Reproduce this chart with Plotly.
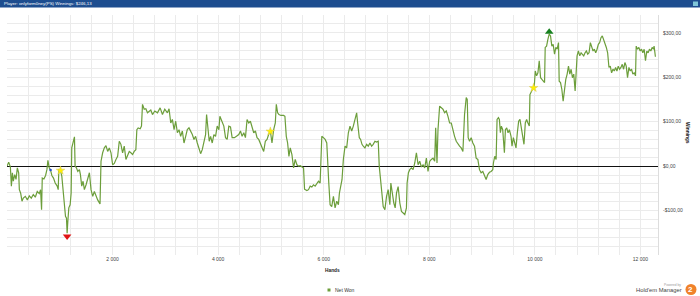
import plotly.graph_objects as go

# ---- data ----
hands = [1, 32, 64, 83, 102, 120, 146, 171, 196, 221, 234, 259, 284, 309, 347, 385, 422, 460, 498, 536,
         573, 611, 636, 655, 668, 699, 731, 756, 775, 800, 825, 850, 881, 913, 951, 970, 982, 1014, 1039, 1064,
         1089, 1108, 1127, 1139, 1152, 1171, 1196, 1215, 1227, 1253, 1278, 1290, 1315, 1341, 1372, 1391, 1416, 1441, 1466, 1498,
         1529, 1561, 1592, 1624, 1655, 1687, 1718, 1762, 1781, 1812, 1844, 1875, 1907, 1938, 1970, 2001, 2033, 2064, 2096, 2127,
         2158, 2190, 2221, 2253, 2284, 2316, 2347, 2379, 2410, 2441, 2460, 2485, 2523, 2548, 2567, 2599, 2630, 2662, 2724, 2756,
         2800, 2850, 2901, 2945, 2989, 3039, 3070,
         3102, 3133, 3165, 3196, 3228, 3259, 3290, 3322, 3353, 3385, 3416, 3448, 3479, 3511, 3542, 3573, 3605, 3636, 3668, 3699,
         3731, 3762, 3781, 3806, 3831, 3857, 3888, 3919, 3951, 3982, 4014, 4033, 4077, 4108, 4140, 4171, 4202, 4234, 4265, 4309,
         4347, 4391, 4423, 4454, 4486, 4517, 4548, 4580, 4611, 4643, 4674, 4706, 4737, 4769, 4800, 4831, 4863, 4894, 4926, 4957,
         4989, 5020, 5052, 5083, 5102, 5127, 5152, 5190, 5240, 5265, 5291, 5316, 5341, 5366, 5398, 5429, 5460, 5492, 5523, 5555,
         5586, 5618, 5637, 5681, 5712, 5744, 5775, 5806, 5838, 5869, 5901, 5932, 5964, 5995, 6027, 6058,
         6070, 6096, 6121, 6152, 6184, 6215, 6247, 6278, 6297, 6322, 6347, 6372, 6404, 6435, 6467, 6498, 6530, 6561, 6592, 6624,
         6643, 6674, 6699, 6725, 6750, 6781, 6813, 6844, 6876, 6907, 6938, 6970, 7001, 7033, 7052, 7077, 7102, 7127, 7159, 7190,
         7221, 7253, 7272, 7303, 7328, 7354, 7379, 7410, 7442, 7473, 7505, 7536, 7567, 7580, 7605, 7630, 7662, 7693, 7725, 7756,
         7788, 7819, 7850, 7882, 7913, 7945, 7976, 8008, 8039, 8071, 8102, 8121, 8146, 8165, 8196, 8228, 8259, 8291, 8322, 8354,
         8385, 8417, 8448, 8479, 8511, 8542, 8574, 8605, 8637, 8668, 8700, 8719, 8737, 8763, 8794, 8825, 8857, 8888, 8920,
         8951, 8982, 9014, 9045, 9077, 9108, 9140, 9171, 9203, 9215, 9240, 9266, 9284, 9310, 9328, 9347, 9366, 9391, 9423, 9442,
         9467, 9492, 9517, 9549, 9567, 9593, 9618, 9643, 9668, 9693, 9718, 9744, 9769, 9794, 9819, 9844, 9869, 9895, 9907, 9932,
         9957, 9989, 10008, 10033, 10058, 10083, 10108, 10134, 10159, 10184, 10196, 10222, 10247, 10272, 10297, 10322, 10347, 10373, 10398, 10423,
         10448, 10461, 10486, 10511, 10536, 10561, 10586, 10612, 10637, 10662, 10687, 10712, 10737, 10763, 10775, 10800, 10825, 10851, 10876, 10901,
         10926, 10951, 10976, 11002, 11027, 11052, 11077, 11102, 11127, 11153, 11178, 11203, 11228, 11253, 11278, 11303, 11329, 11354, 11379, 11404,
         11429, 11454, 11480, 11505, 11530, 11555, 11580, 11605, 11631, 11656, 11681, 11706, 11731, 11756, 11782, 11807, 11832, 11857, 11882, 11907,
         11920, 11945, 11970, 11995, 12021, 12046, 12071, 12096, 12121, 12146, 12171, 12197, 12222, 12247, 12259, 12284]

net_won = [0, 9, -2, -45, -15, -34, -19, -30, -4, -15, -53, -61, -79, -72, -68, -76, -67, -72, -64, -70,
           -57, -62, -53, -98, -27, -29, -21, -8, 13, -4, -9, -21, -27, -38, -45, -53, -8, -10, -23, -53,
           -83, -113, -117, -151, -125, -94, -87, -61, 41, 56, 66, 0, -4, -12, -8, -19, -45, -34, -53, -42,
           -27, -15, -53, -68, -57, -68, -76, -85, 11, 30, 41, 46, 33, 41, 30, 3, 6, 15, 22, 56,
           49, 30, 45, 15, 26, 33, 30, 26, 33, 37, 82, 86, 84, 90, 139, 128, 129, 120, 126, 116,
           124, 120, 131, 116, 128, 120, 129,
           97, 105, 82, 101, 75, 82, 67, 79, 52, 67, 82, 86, 79, 71, 60, 67, 52, 41, 28, 37,
           52, 71, 116, 82, 56, 67, 52, 71, 67, 90, 82, 112, 101, 90, 64, 60, 90, 88, 64, 64,
           67, 71, 79, 67, 75, 64, 105, 97, 101, 90, 75, 79, 64, 60, 52, 45, 33, 56, 60, 71,
           79, 52, 82, 97, 139, 120, 116, 114, 114, 112, 67, 52, 22, 41, 26, -4, 15, 3, 0, 1,
           -2, -4, -52, -55, -53, -45, -47, -42, -45, -38, -34, -38, 67, 64, 60, 52,
           7, -38, -87, -91, -68, -94, -79, -87, -61, -46, -30, 15, 45, 41, 75, 90, 79, 90, 105, 120,
           97, 64, 60, 49, 45, 41, 49, 45, 52, 45, 49, 56, 54, 56, 0, -30, -46, -91, -98, -68,
           -53, -87, -38, -68, -83, -94, -61, -46, -83, -102, -106, -109, -94, -38, -15, -8, -4, -8, 7, 30,
           3, 11, -2, 3, -4, 18, -12, 11, 15, 18, 11, 86, 7, 82, 135, 131, 128, 120, 124, 112,
           97, 97, 79, 67, 56, 49, 45, 41, 33, 116, 154, 150, 64, 56, 64, 52, 45, 18, 15,
           -8, -15, -12, -23, -30, -19, -14, -12, -8, 7, 22, 15, 105, 109, 105, 75, 90, 82, 30, 82,
           86, 75, 82, 67, 45, 64, 52, 41, 75, 101, 105, 82, 71, 49, 97, 105, 97, 90, 161, 169,
           173, 180, 214, 203, 210, 237, 199, 195, 191, 188, 267, 270, 285, 297, 293, 270, 274, 252, 267, 263,
           278, 191, 188, 173, 146, 180, 195, 207, 225, 207, 218, 199, 207, 169, 210, 248, 259, 248, 255, 252,
           248, 255, 259, 252, 255, 278, 267, 259, 263, 255, 263, 274, 278, 289, 293, 285, 274, 267, 255, 222,
           225, 210, 218, 214, 222, 214, 225, 218, 222, 229, 218, 233, 225, 199, 222, 214, 218, 207, 210, 203,
           270, 263, 267, 259, 263, 255, 263, 237, 259, 255, 263, 259, 267, 263, 270, 246.13]

x_tick_vals = list(range(0, 12401, 400))
x_tick_text = [("{:,}".format(v).replace(",", " ") if v % 2000 == 0 and v > 0 else "") for v in x_tick_vals]
y_tick_vals = list(range(-200, 341, 20))
y_labels = {-100: "-$100,00", 0: "$0,00", 100: "$100,00", 200: "$200,00", 300: "$300,00"}
y_tick_text = [y_labels.get(v, "") for v in y_tick_vals]

star_hands = [1014, 4989, 9976]
star_values = [-10, 78, 176]
max_hand, max_value = 10272, 302
min_hand, min_value = 1139, -158
blue_hand, blue_value = 825, -9

series_name = "Net Won"
title_text = "Player: onlyform0ney(PS) Winnings: $246,13"

# ---- figure ----
W, H = 700, 296
ML, MR, MT, MB = 7, 42, 15, 41
PW, PH = W - ML - MR, H - MT - MB


def px_x(p):
    return (p - ML) / PW


def px_y(p):
    return 1 - (p - MT) / PH


FONT = "Liberation Sans, Arial, sans-serif"
LINE_COLOR = "#6c9e3b"

fig = go.Figure()
fig.add_trace(go.Scatter(x=hands, y=net_won, mode="lines", name=series_name,
                         line=dict(color=LINE_COLOR, width=1.2), showlegend=False))
fig.add_trace(go.Scatter(x=[blue_hand], y=[blue_value], mode="markers",
                         marker=dict(color="#2050d0", size=2.5), showlegend=False))
fig.add_trace(go.Scatter(x=star_hands, y=star_values, mode="markers",
                         marker=dict(symbol="star", color="#fff000", size=6.5,
                                     line=dict(color="#d8c860", width=0.5)), showlegend=False))
fig.add_trace(go.Scatter(x=[min_hand], y=[min_value], mode="markers",
                         marker=dict(symbol="triangle-down", color="#e01414", size=7.5), showlegend=False))
fig.add_trace(go.Scatter(x=[max_hand], y=[max_value], mode="markers",
                         marker=dict(symbol="triangle-up", color="#17801f", size=7.5), showlegend=False))

fig.update_layout(
    width=W, height=H,
    margin=dict(l=ML, r=MR, t=MT, b=MB, pad=0),
    paper_bgcolor="white", plot_bgcolor="white",
    font=dict(family=FONT, size=5, color="#444"),
    showlegend=False,
    xaxis=dict(range=[0, 12333], tickmode="array", tickvals=x_tick_vals, ticktext=x_tick_text,
               showgrid=True, gridcolor="#ebebeb", gridwidth=1, zeroline=False, showline=False,
               ticks="", tickfont=dict(size=5, color="#444")),
    yaxis=dict(range=[-200, 340], side="right", tickmode="array", tickvals=y_tick_vals, ticktext=y_tick_text,
               showgrid=True, gridcolor="#ebebeb", gridwidth=1,
               zeroline=True, zerolinecolor="#111", zerolinewidth=1.3,
               showline=True, linecolor="#dddddd", linewidth=1, mirror=False,
               ticks="outside", ticklen=3, tickcolor="rgba(0,0,0,0)", tickfont=dict(size=5, color="#444")),
)

shapes = []
# title bar
shapes.append(dict(type="rect", xref="paper", yref="paper", x0=px_x(0), x1=px_x(W), y0=px_y(7.5), y1=px_y(0),
                   fillcolor="#1d4d8f", line=dict(width=0), layer="above"))
shapes.append(dict(type="rect", xref="paper", yref="paper", x0=px_x(693), x1=px_x(698), y0=px_y(6), y1=px_y(1.5),
                   fillcolor="#7fc6d8", line=dict(width=0), layer="above"))
# legend square
shapes.append(dict(type="rect", xref="paper", yref="paper", x0=px_x(327.5), x1=px_x(330.5), y0=px_y(291.5), y1=px_y(288.5),
                   fillcolor=LINE_COLOR, line=dict(width=0)))
# logo circle
shapes.append(dict(type="circle", xref="paper", yref="paper", x0=px_x(685.5), x1=px_x(696.5), y0=px_y(295), y1=px_y(284),
                   fillcolor="#f0822a", line=dict(width=0)))
fig.update_layout(shapes=shapes)

ann = []
ann.append(dict(text=title_text, xref="paper", yref="paper", x=px_x(2), y=px_y(3.8), xanchor="left", yanchor="middle",
                showarrow=False, font=dict(size=4.4, color="white", family=FONT)))
ann.append(dict(text="<b>Hands</b>", xref="paper", yref="paper", x=px_x(332.5), y=px_y(270), xanchor="center",
                yanchor="middle", showarrow=False, font=dict(size=4.8, color="#222", family=FONT)))
ann.append(dict(text="<b>Winnings</b>", xref="paper", yref="paper", x=px_x(688), y=px_y(133), xanchor="center",
                yanchor="middle", textangle=90, showarrow=False, font=dict(size=4.8, color="#222", family=FONT)))
ann.append(dict(text=series_name, xref="paper", yref="paper", x=px_x(333), y=px_y(290), xanchor="left",
                yanchor="middle", showarrow=False, font=dict(size=5, color="#333", family=FONT)))
ann.append(dict(text="Powered by", xref="paper", yref="paper", x=px_x(683), y=px_y(284.5), xanchor="right",
                yanchor="middle", showarrow=False, font=dict(size=3.2, color="#999", family=FONT)))
ann.append(dict(text="Hold'em Manager", xref="paper", yref="paper", x=px_x(684), y=px_y(290), xanchor="right",
                yanchor="middle", showarrow=False, font=dict(size=5.8, color="#444", family=FONT)))
ann.append(dict(text="<b>2</b>", xref="paper", yref="paper", x=px_x(691), y=px_y(289.5), xanchor="center",
                yanchor="middle", showarrow=False, font=dict(size=8, color="white", family=FONT)))
fig.update_layout(annotations=ann)

fig.write_html("out.html")
